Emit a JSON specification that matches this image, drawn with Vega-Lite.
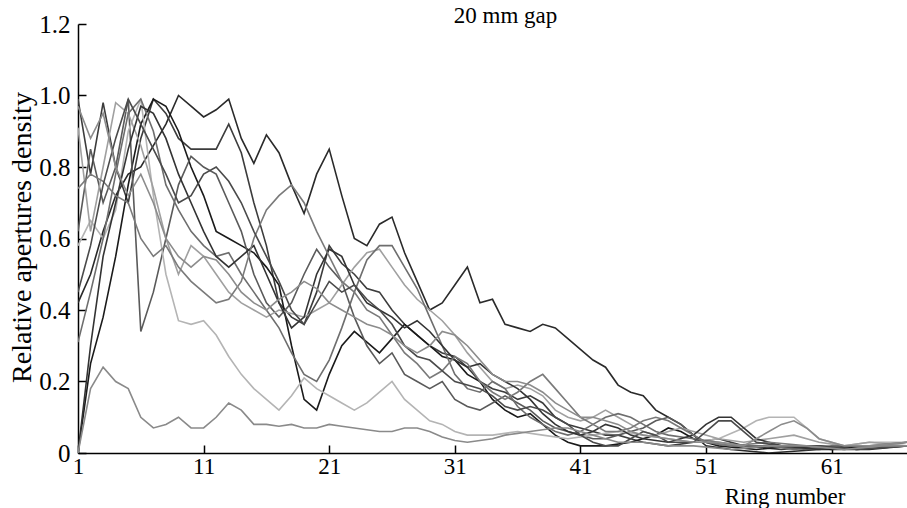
{
"$schema": "https://vega.github.io/schema/vega-lite/v6.json",
"width": 829,
"height": 429,
"autosize": {"type": "none"},
"padding": {"left": 78, "top": 24, "right": 0, "bottom": 55},
"background": "white",
"config": {"view": {"stroke": null}, "font": "Liberation Serif"},
"title": {"text": "20 mm gap", "font": "Liberation Serif", "fontSize": 23, "fontWeight": "normal", "color": "black", "anchor": "middle", "frame": "group", "baseline": "alphabetic", "offset": 0, "dy": 34, "dx": 13},
"data": {"values": [
{"s":"s1","r":1,"v":0.42},{"s":"s1","r":2,"v":0.5},{"s":"s1","r":3,"v":0.62},{"s":"s1","r":4,"v":0.72},{"s":"s1","r":5,"v":0.78},{"s":"s1","r":6,"v":0.8},{"s":"s1","r":7,"v":0.86},{"s":"s1","r":8,"v":0.92},{"s":"s1","r":9,"v":1.0},{"s":"s1","r":10,"v":0.97},{"s":"s1","r":11,"v":0.94},{"s":"s1","r":12,"v":0.96},{"s":"s1","r":13,"v":0.99},{"s":"s1","r":14,"v":0.88},{"s":"s1","r":15,"v":0.81},{"s":"s1","r":16,"v":0.89},{"s":"s1","r":17,"v":0.84},{"s":"s1","r":18,"v":0.75},{"s":"s1","r":19,"v":0.67},{"s":"s1","r":20,"v":0.78},{"s":"s1","r":21,"v":0.85},{"s":"s1","r":22,"v":0.72},{"s":"s1","r":23,"v":0.6},{"s":"s1","r":24,"v":0.58},{"s":"s1","r":25,"v":0.64},{"s":"s1","r":26,"v":0.66},{"s":"s1","r":27,"v":0.56},{"s":"s1","r":28,"v":0.48},{"s":"s1","r":29,"v":0.4},{"s":"s1","r":30,"v":0.42},{"s":"s1","r":31,"v":0.47},{"s":"s1","r":32,"v":0.52},{"s":"s1","r":33,"v":0.42},{"s":"s1","r":34,"v":0.43},{"s":"s1","r":35,"v":0.36},{"s":"s1","r":36,"v":0.35},{"s":"s1","r":37,"v":0.34},{"s":"s1","r":38,"v":0.36},{"s":"s1","r":39,"v":0.35},{"s":"s1","r":40,"v":0.32},{"s":"s1","r":41,"v":0.29},{"s":"s1","r":42,"v":0.26},{"s":"s1","r":43,"v":0.24},{"s":"s1","r":44,"v":0.19},{"s":"s1","r":45,"v":0.17},{"s":"s1","r":46,"v":0.16},{"s":"s1","r":47,"v":0.12},{"s":"s1","r":48,"v":0.1},{"s":"s1","r":49,"v":0.08},{"s":"s1","r":50,"v":0.05},{"s":"s1","r":51,"v":0.02},{"s":"s1","r":53,"v":0.01},{"s":"s1","r":56,"v":0.0},{"s":"s1","r":60,"v":0.01},{"s":"s1","r":64,"v":0.01},{"s":"s1","r":67,"v":0.02},
{"s":"s2","r":1,"v":0.99},{"s":"s2","r":2,"v":0.78},{"s":"s2","r":3,"v":0.98},{"s":"s2","r":4,"v":0.8},{"s":"s2","r":5,"v":0.7},{"s":"s2","r":6,"v":0.88},{"s":"s2","r":7,"v":0.99},{"s":"s2","r":8,"v":0.95},{"s":"s2","r":9,"v":0.88},{"s":"s2","r":10,"v":0.85},{"s":"s2","r":11,"v":0.85},{"s":"s2","r":12,"v":0.85},{"s":"s2","r":13,"v":0.92},{"s":"s2","r":14,"v":0.84},{"s":"s2","r":15,"v":0.7},{"s":"s2","r":16,"v":0.58},{"s":"s2","r":17,"v":0.42},{"s":"s2","r":18,"v":0.38},{"s":"s2","r":19,"v":0.36},{"s":"s2","r":20,"v":0.45},{"s":"s2","r":21,"v":0.58},{"s":"s2","r":22,"v":0.53},{"s":"s2","r":23,"v":0.5},{"s":"s2","r":24,"v":0.46},{"s":"s2","r":25,"v":0.45},{"s":"s2","r":26,"v":0.4},{"s":"s2","r":27,"v":0.36},{"s":"s2","r":28,"v":0.33},{"s":"s2","r":29,"v":0.3},{"s":"s2","r":30,"v":0.28},{"s":"s2","r":31,"v":0.27},{"s":"s2","r":32,"v":0.24},{"s":"s2","r":33,"v":0.2},{"s":"s2","r":34,"v":0.18},{"s":"s2","r":35,"v":0.17},{"s":"s2","r":36,"v":0.15},{"s":"s2","r":37,"v":0.16},{"s":"s2","r":38,"v":0.14},{"s":"s2","r":39,"v":0.1},{"s":"s2","r":40,"v":0.08},{"s":"s2","r":41,"v":0.07},{"s":"s2","r":42,"v":0.06},{"s":"s2","r":43,"v":0.05},{"s":"s2","r":44,"v":0.05},{"s":"s2","r":45,"v":0.04},{"s":"s2","r":46,"v":0.03},{"s":"s2","r":48,"v":0.02},{"s":"s2","r":50,"v":0.03},{"s":"s2","r":52,"v":0.04},{"s":"s2","r":54,"v":0.02},{"s":"s2","r":57,"v":0.01},{"s":"s2","r":60,"v":0.02},{"s":"s2","r":63,"v":0.01},{"s":"s2","r":67,"v":0.02},
{"s":"s3","r":1,"v":0.0},{"s":"s3","r":2,"v":0.25},{"s":"s3","r":3,"v":0.38},{"s":"s3","r":4,"v":0.55},{"s":"s3","r":5,"v":0.75},{"s":"s3","r":6,"v":0.92},{"s":"s3","r":7,"v":0.99},{"s":"s3","r":8,"v":0.97},{"s":"s3","r":9,"v":0.9},{"s":"s3","r":10,"v":0.8},{"s":"s3","r":11,"v":0.72},{"s":"s3","r":12,"v":0.62},{"s":"s3","r":13,"v":0.6},{"s":"s3","r":14,"v":0.58},{"s":"s3","r":15,"v":0.56},{"s":"s3","r":16,"v":0.52},{"s":"s3","r":17,"v":0.47},{"s":"s3","r":18,"v":0.3},{"s":"s3","r":19,"v":0.15},{"s":"s3","r":20,"v":0.12},{"s":"s3","r":21,"v":0.22},{"s":"s3","r":22,"v":0.3},{"s":"s3","r":23,"v":0.34},{"s":"s3","r":24,"v":0.31},{"s":"s3","r":25,"v":0.28},{"s":"s3","r":26,"v":0.32},{"s":"s3","r":27,"v":0.36},{"s":"s3","r":28,"v":0.33},{"s":"s3","r":29,"v":0.3},{"s":"s3","r":30,"v":0.27},{"s":"s3","r":31,"v":0.26},{"s":"s3","r":32,"v":0.22},{"s":"s3","r":33,"v":0.2},{"s":"s3","r":34,"v":0.15},{"s":"s3","r":35,"v":0.12},{"s":"s3","r":36,"v":0.1},{"s":"s3","r":37,"v":0.11},{"s":"s3","r":38,"v":0.08},{"s":"s3","r":39,"v":0.05},{"s":"s3","r":40,"v":0.03},{"s":"s3","r":41,"v":0.02},{"s":"s3","r":43,"v":0.02},{"s":"s3","r":45,"v":0.03},{"s":"s3","r":47,"v":0.05},{"s":"s3","r":48,"v":0.07},{"s":"s3","r":49,"v":0.06},{"s":"s3","r":50,"v":0.04},{"s":"s3","r":52,"v":0.02},{"s":"s3","r":55,"v":0.01},{"s":"s3","r":58,"v":0.02},{"s":"s3","r":61,"v":0.01},{"s":"s3","r":64,"v":0.02},{"s":"s3","r":67,"v":0.02},
{"s":"s4","r":1,"v":0.62},{"s":"s4","r":2,"v":0.85},{"s":"s4","r":3,"v":0.7},{"s":"s4","r":4,"v":0.8},{"s":"s4","r":5,"v":0.99},{"s":"s4","r":6,"v":0.34},{"s":"s4","r":7,"v":0.45},{"s":"s4","r":8,"v":0.6},{"s":"s4","r":9,"v":0.75},{"s":"s4","r":10,"v":0.83},{"s":"s4","r":11,"v":0.8},{"s":"s4","r":12,"v":0.78},{"s":"s4","r":13,"v":0.7},{"s":"s4","r":14,"v":0.62},{"s":"s4","r":15,"v":0.5},{"s":"s4","r":16,"v":0.42},{"s":"s4","r":17,"v":0.38},{"s":"s4","r":18,"v":0.42},{"s":"s4","r":19,"v":0.5},{"s":"s4","r":20,"v":0.57},{"s":"s4","r":21,"v":0.52},{"s":"s4","r":22,"v":0.48},{"s":"s4","r":23,"v":0.38},{"s":"s4","r":24,"v":0.3},{"s":"s4","r":25,"v":0.25},{"s":"s4","r":26,"v":0.28},{"s":"s4","r":27,"v":0.22},{"s":"s4","r":28,"v":0.2},{"s":"s4","r":29,"v":0.18},{"s":"s4","r":30,"v":0.2},{"s":"s4","r":31,"v":0.15},{"s":"s4","r":32,"v":0.13},{"s":"s4","r":33,"v":0.12},{"s":"s4","r":34,"v":0.14},{"s":"s4","r":35,"v":0.16},{"s":"s4","r":36,"v":0.14},{"s":"s4","r":37,"v":0.12},{"s":"s4","r":38,"v":0.09},{"s":"s4","r":39,"v":0.07},{"s":"s4","r":40,"v":0.06},{"s":"s4","r":41,"v":0.05},{"s":"s4","r":42,"v":0.04},{"s":"s4","r":43,"v":0.04},{"s":"s4","r":44,"v":0.05},{"s":"s4","r":45,"v":0.06},{"s":"s4","r":46,"v":0.07},{"s":"s4","r":47,"v":0.09},{"s":"s4","r":48,"v":0.1},{"s":"s4","r":49,"v":0.08},{"s":"s4","r":50,"v":0.05},{"s":"s4","r":51,"v":0.03},{"s":"s4","r":53,"v":0.02},{"s":"s4","r":56,"v":0.02},{"s":"s4","r":59,"v":0.01},{"s":"s4","r":62,"v":0.02},{"s":"s4","r":65,"v":0.02},{"s":"s4","r":67,"v":0.03},
{"s":"s5","r":1,"v":0.58},{"s":"s5","r":2,"v":0.65},{"s":"s5","r":3,"v":0.6},{"s":"s5","r":4,"v":0.68},{"s":"s5","r":5,"v":0.9},{"s":"s5","r":6,"v":0.99},{"s":"s5","r":7,"v":0.72},{"s":"s5","r":8,"v":0.5},{"s":"s5","r":9,"v":0.37},{"s":"s5","r":10,"v":0.36},{"s":"s5","r":11,"v":0.37},{"s":"s5","r":12,"v":0.33},{"s":"s5","r":13,"v":0.27},{"s":"s5","r":14,"v":0.22},{"s":"s5","r":15,"v":0.18},{"s":"s5","r":16,"v":0.15},{"s":"s5","r":17,"v":0.12},{"s":"s5","r":18,"v":0.16},{"s":"s5","r":19,"v":0.21},{"s":"s5","r":20,"v":0.18},{"s":"s5","r":21,"v":0.16},{"s":"s5","r":22,"v":0.14},{"s":"s5","r":23,"v":0.12},{"s":"s5","r":24,"v":0.14},{"s":"s5","r":25,"v":0.17},{"s":"s5","r":26,"v":0.2},{"s":"s5","r":27,"v":0.15},{"s":"s5","r":28,"v":0.12},{"s":"s5","r":29,"v":0.09},{"s":"s5","r":30,"v":0.08},{"s":"s5","r":31,"v":0.06},{"s":"s5","r":32,"v":0.05},{"s":"s5","r":34,"v":0.05},{"s":"s5","r":36,"v":0.06},{"s":"s5","r":38,"v":0.05},{"s":"s5","r":40,"v":0.04},{"s":"s5","r":42,"v":0.05},{"s":"s5","r":44,"v":0.06},{"s":"s5","r":46,"v":0.05},{"s":"s5","r":48,"v":0.04},{"s":"s5","r":50,"v":0.03},{"s":"s5","r":52,"v":0.04},{"s":"s5","r":54,"v":0.07},{"s":"s5","r":55,"v":0.09},{"s":"s5","r":56,"v":0.1},{"s":"s5","r":57,"v":0.1},{"s":"s5","r":58,"v":0.1},{"s":"s5","r":59,"v":0.07},{"s":"s5","r":60,"v":0.04},{"s":"s5","r":62,"v":0.02},{"s":"s5","r":64,"v":0.03},{"s":"s5","r":67,"v":0.03},
{"s":"s6","r":1,"v":0.91},{"s":"s6","r":2,"v":0.62},{"s":"s6","r":3,"v":0.8},{"s":"s6","r":4,"v":0.98},{"s":"s6","r":5,"v":0.95},{"s":"s6","r":6,"v":0.86},{"s":"s6","r":7,"v":0.74},{"s":"s6","r":8,"v":0.6},{"s":"s6","r":9,"v":0.5},{"s":"s6","r":10,"v":0.58},{"s":"s6","r":11,"v":0.55},{"s":"s6","r":12,"v":0.5},{"s":"s6","r":13,"v":0.45},{"s":"s6","r":14,"v":0.42},{"s":"s6","r":15,"v":0.4},{"s":"s6","r":16,"v":0.38},{"s":"s6","r":17,"v":0.4},{"s":"s6","r":18,"v":0.39},{"s":"s6","r":19,"v":0.38},{"s":"s6","r":20,"v":0.4},{"s":"s6","r":21,"v":0.42},{"s":"s6","r":22,"v":0.47},{"s":"s6","r":23,"v":0.52},{"s":"s6","r":24,"v":0.56},{"s":"s6","r":25,"v":0.57},{"s":"s6","r":26,"v":0.52},{"s":"s6","r":27,"v":0.47},{"s":"s6","r":28,"v":0.43},{"s":"s6","r":29,"v":0.4},{"s":"s6","r":30,"v":0.37},{"s":"s6","r":31,"v":0.33},{"s":"s6","r":32,"v":0.28},{"s":"s6","r":33,"v":0.24},{"s":"s6","r":34,"v":0.2},{"s":"s6","r":35,"v":0.18},{"s":"s6","r":36,"v":0.19},{"s":"s6","r":37,"v":0.18},{"s":"s6","r":38,"v":0.16},{"s":"s6","r":39,"v":0.12},{"s":"s6","r":40,"v":0.1},{"s":"s6","r":41,"v":0.09},{"s":"s6","r":42,"v":0.1},{"s":"s6","r":43,"v":0.12},{"s":"s6","r":44,"v":0.1},{"s":"s6","r":45,"v":0.08},{"s":"s6","r":46,"v":0.06},{"s":"s6","r":47,"v":0.05},{"s":"s6","r":48,"v":0.06},{"s":"s6","r":49,"v":0.07},{"s":"s6","r":50,"v":0.06},{"s":"s6","r":52,"v":0.04},{"s":"s6","r":54,"v":0.03},{"s":"s6","r":56,"v":0.04},{"s":"s6","r":58,"v":0.05},{"s":"s6","r":60,"v":0.03},{"s":"s6","r":62,"v":0.02},{"s":"s6","r":64,"v":0.03},{"s":"s6","r":67,"v":0.02},
{"s":"s7","r":1,"v":0.31},{"s":"s7","r":2,"v":0.45},{"s":"s7","r":3,"v":0.6},{"s":"s7","r":4,"v":0.78},{"s":"s7","r":5,"v":0.95},{"s":"s7","r":6,"v":0.99},{"s":"s7","r":7,"v":0.9},{"s":"s7","r":8,"v":0.75},{"s":"s7","r":9,"v":0.68},{"s":"s7","r":10,"v":0.62},{"s":"s7","r":11,"v":0.58},{"s":"s7","r":12,"v":0.55},{"s":"s7","r":13,"v":0.56},{"s":"s7","r":14,"v":0.5},{"s":"s7","r":15,"v":0.45},{"s":"s7","r":16,"v":0.4},{"s":"s7","r":17,"v":0.35},{"s":"s7","r":18,"v":0.28},{"s":"s7","r":19,"v":0.22},{"s":"s7","r":20,"v":0.2},{"s":"s7","r":21,"v":0.26},{"s":"s7","r":22,"v":0.35},{"s":"s7","r":23,"v":0.45},{"s":"s7","r":24,"v":0.54},{"s":"s7","r":25,"v":0.58},{"s":"s7","r":26,"v":0.58},{"s":"s7","r":27,"v":0.52},{"s":"s7","r":28,"v":0.46},{"s":"s7","r":29,"v":0.38},{"s":"s7","r":30,"v":0.3},{"s":"s7","r":31,"v":0.22},{"s":"s7","r":32,"v":0.18},{"s":"s7","r":33,"v":0.17},{"s":"s7","r":34,"v":0.2},{"s":"s7","r":35,"v":0.18},{"s":"s7","r":36,"v":0.13},{"s":"s7","r":37,"v":0.1},{"s":"s7","r":38,"v":0.08},{"s":"s7","r":39,"v":0.06},{"s":"s7","r":40,"v":0.05},{"s":"s7","r":41,"v":0.06},{"s":"s7","r":42,"v":0.08},{"s":"s7","r":43,"v":0.1},{"s":"s7","r":44,"v":0.11},{"s":"s7","r":45,"v":0.1},{"s":"s7","r":46,"v":0.08},{"s":"s7","r":47,"v":0.06},{"s":"s7","r":48,"v":0.05},{"s":"s7","r":50,"v":0.04},{"s":"s7","r":52,"v":0.03},{"s":"s7","r":54,"v":0.02},{"s":"s7","r":56,"v":0.02},{"s":"s7","r":58,"v":0.01},{"s":"s7","r":61,"v":0.02},{"s":"s7","r":64,"v":0.02},{"s":"s7","r":67,"v":0.03},
{"s":"s8","r":1,"v":0.0},{"s":"s8","r":2,"v":0.3},{"s":"s8","r":3,"v":0.55},{"s":"s8","r":4,"v":0.7},{"s":"s8","r":5,"v":0.85},{"s":"s8","r":6,"v":0.97},{"s":"s8","r":7,"v":0.95},{"s":"s8","r":8,"v":0.88},{"s":"s8","r":9,"v":0.78},{"s":"s8","r":10,"v":0.7},{"s":"s8","r":11,"v":0.62},{"s":"s8","r":12,"v":0.55},{"s":"s8","r":13,"v":0.52},{"s":"s8","r":14,"v":0.55},{"s":"s8","r":15,"v":0.58},{"s":"s8","r":16,"v":0.5},{"s":"s8","r":17,"v":0.42},{"s":"s8","r":18,"v":0.35},{"s":"s8","r":19,"v":0.38},{"s":"s8","r":20,"v":0.5},{"s":"s8","r":21,"v":0.57},{"s":"s8","r":22,"v":0.55},{"s":"s8","r":23,"v":0.47},{"s":"s8","r":24,"v":0.42},{"s":"s8","r":25,"v":0.4},{"s":"s8","r":26,"v":0.38},{"s":"s8","r":27,"v":0.35},{"s":"s8","r":28,"v":0.37},{"s":"s8","r":29,"v":0.34},{"s":"s8","r":30,"v":0.3},{"s":"s8","r":31,"v":0.26},{"s":"s8","r":32,"v":0.24},{"s":"s8","r":33,"v":0.25},{"s":"s8","r":34,"v":0.22},{"s":"s8","r":35,"v":0.2},{"s":"s8","r":36,"v":0.18},{"s":"s8","r":37,"v":0.15},{"s":"s8","r":38,"v":0.11},{"s":"s8","r":39,"v":0.08},{"s":"s8","r":40,"v":0.06},{"s":"s8","r":41,"v":0.05},{"s":"s8","r":42,"v":0.06},{"s":"s8","r":43,"v":0.08},{"s":"s8","r":44,"v":0.07},{"s":"s8","r":45,"v":0.05},{"s":"s8","r":46,"v":0.04},{"s":"s8","r":48,"v":0.03},{"s":"s8","r":50,"v":0.05},{"s":"s8","r":51,"v":0.08},{"s":"s8","r":52,"v":0.1},{"s":"s8","r":53,"v":0.1},{"s":"s8","r":54,"v":0.07},{"s":"s8","r":55,"v":0.04},{"s":"s8","r":57,"v":0.02},{"s":"s8","r":60,"v":0.01},{"s":"s8","r":63,"v":0.02},{"s":"s8","r":67,"v":0.02},
{"s":"s9","r":1,"v":0.74},{"s":"s9","r":2,"v":0.78},{"s":"s9","r":3,"v":0.76},{"s":"s9","r":4,"v":0.72},{"s":"s9","r":5,"v":0.7},{"s":"s9","r":6,"v":0.6},{"s":"s9","r":7,"v":0.55},{"s":"s9","r":8,"v":0.58},{"s":"s9","r":9,"v":0.52},{"s":"s9","r":10,"v":0.48},{"s":"s9","r":11,"v":0.45},{"s":"s9","r":12,"v":0.42},{"s":"s9","r":13,"v":0.43},{"s":"s9","r":14,"v":0.48},{"s":"s9","r":15,"v":0.6},{"s":"s9","r":16,"v":0.68},{"s":"s9","r":17,"v":0.72},{"s":"s9","r":18,"v":0.75},{"s":"s9","r":19,"v":0.7},{"s":"s9","r":20,"v":0.62},{"s":"s9","r":21,"v":0.55},{"s":"s9","r":22,"v":0.48},{"s":"s9","r":23,"v":0.45},{"s":"s9","r":24,"v":0.4},{"s":"s9","r":25,"v":0.38},{"s":"s9","r":26,"v":0.33},{"s":"s9","r":27,"v":0.28},{"s":"s9","r":28,"v":0.25},{"s":"s9","r":29,"v":0.21},{"s":"s9","r":30,"v":0.23},{"s":"s9","r":31,"v":0.27},{"s":"s9","r":32,"v":0.25},{"s":"s9","r":33,"v":0.2},{"s":"s9","r":34,"v":0.17},{"s":"s9","r":35,"v":0.15},{"s":"s9","r":36,"v":0.17},{"s":"s9","r":37,"v":0.2},{"s":"s9","r":38,"v":0.22},{"s":"s9","r":39,"v":0.18},{"s":"s9","r":40,"v":0.14},{"s":"s9","r":41,"v":0.1},{"s":"s9","r":42,"v":0.08},{"s":"s9","r":43,"v":0.06},{"s":"s9","r":44,"v":0.06},{"s":"s9","r":45,"v":0.07},{"s":"s9","r":46,"v":0.09},{"s":"s9","r":47,"v":0.1},{"s":"s9","r":48,"v":0.09},{"s":"s9","r":49,"v":0.07},{"s":"s9","r":50,"v":0.05},{"s":"s9","r":51,"v":0.03},{"s":"s9","r":53,"v":0.02},{"s":"s9","r":56,"v":0.03},{"s":"s9","r":59,"v":0.02},{"s":"s9","r":62,"v":0.01},{"s":"s9","r":65,"v":0.02},{"s":"s9","r":67,"v":0.02},
{"s":"s10","r":1,"v":0.45},{"s":"s10","r":2,"v":0.58},{"s":"s10","r":3,"v":0.75},{"s":"s10","r":4,"v":0.88},{"s":"s10","r":5,"v":0.99},{"s":"s10","r":6,"v":0.92},{"s":"s10","r":7,"v":0.85},{"s":"s10","r":8,"v":0.78},{"s":"s10","r":9,"v":0.7},{"s":"s10","r":10,"v":0.72},{"s":"s10","r":11,"v":0.78},{"s":"s10","r":12,"v":0.8},{"s":"s10","r":13,"v":0.76},{"s":"s10","r":14,"v":0.7},{"s":"s10","r":15,"v":0.62},{"s":"s10","r":16,"v":0.55},{"s":"s10","r":17,"v":0.48},{"s":"s10","r":18,"v":0.4},{"s":"s10","r":19,"v":0.36},{"s":"s10","r":20,"v":0.42},{"s":"s10","r":21,"v":0.48},{"s":"s10","r":22,"v":0.45},{"s":"s10","r":23,"v":0.47},{"s":"s10","r":24,"v":0.43},{"s":"s10","r":25,"v":0.4},{"s":"s10","r":26,"v":0.36},{"s":"s10","r":27,"v":0.3},{"s":"s10","r":28,"v":0.27},{"s":"s10","r":29,"v":0.26},{"s":"s10","r":30,"v":0.23},{"s":"s10","r":31,"v":0.2},{"s":"s10","r":32,"v":0.19},{"s":"s10","r":33,"v":0.18},{"s":"s10","r":34,"v":0.16},{"s":"s10","r":35,"v":0.13},{"s":"s10","r":36,"v":0.12},{"s":"s10","r":37,"v":0.13},{"s":"s10","r":38,"v":0.12},{"s":"s10","r":39,"v":0.1},{"s":"s10","r":40,"v":0.08},{"s":"s10","r":41,"v":0.05},{"s":"s10","r":42,"v":0.03},{"s":"s10","r":43,"v":0.02},{"s":"s10","r":44,"v":0.02},{"s":"s10","r":45,"v":0.04},{"s":"s10","r":46,"v":0.06},{"s":"s10","r":47,"v":0.05},{"s":"s10","r":48,"v":0.03},{"s":"s10","r":50,"v":0.03},{"s":"s10","r":51,"v":0.06},{"s":"s10","r":52,"v":0.09},{"s":"s10","r":53,"v":0.09},{"s":"s10","r":54,"v":0.06},{"s":"s10","r":55,"v":0.03},{"s":"s10","r":57,"v":0.02},{"s":"s10","r":60,"v":0.02},{"s":"s10","r":63,"v":0.01},{"s":"s10","r":67,"v":0.02},
{"s":"s11","r":1,"v":0.97},{"s":"s11","r":2,"v":0.88},{"s":"s11","r":3,"v":0.95},{"s":"s11","r":4,"v":0.8},{"s":"s11","r":5,"v":0.72},{"s":"s11","r":6,"v":0.78},{"s":"s11","r":7,"v":0.7},{"s":"s11","r":8,"v":0.6},{"s":"s11","r":9,"v":0.55},{"s":"s11","r":10,"v":0.52},{"s":"s11","r":11,"v":0.55},{"s":"s11","r":12,"v":0.54},{"s":"s11","r":13,"v":0.5},{"s":"s11","r":14,"v":0.45},{"s":"s11","r":15,"v":0.42},{"s":"s11","r":16,"v":0.4},{"s":"s11","r":17,"v":0.43},{"s":"s11","r":18,"v":0.45},{"s":"s11","r":19,"v":0.48},{"s":"s11","r":20,"v":0.46},{"s":"s11","r":21,"v":0.42},{"s":"s11","r":22,"v":0.4},{"s":"s11","r":23,"v":0.38},{"s":"s11","r":24,"v":0.36},{"s":"s11","r":25,"v":0.35},{"s":"s11","r":26,"v":0.33},{"s":"s11","r":27,"v":0.3},{"s":"s11","r":28,"v":0.28},{"s":"s11","r":29,"v":0.3},{"s":"s11","r":30,"v":0.34},{"s":"s11","r":31,"v":0.33},{"s":"s11","r":32,"v":0.3},{"s":"s11","r":33,"v":0.26},{"s":"s11","r":34,"v":0.22},{"s":"s11","r":35,"v":0.2},{"s":"s11","r":36,"v":0.2},{"s":"s11","r":37,"v":0.19},{"s":"s11","r":38,"v":0.17},{"s":"s11","r":39,"v":0.14},{"s":"s11","r":40,"v":0.12},{"s":"s11","r":41,"v":0.1},{"s":"s11","r":42,"v":0.1},{"s":"s11","r":43,"v":0.09},{"s":"s11","r":44,"v":0.08},{"s":"s11","r":45,"v":0.06},{"s":"s11","r":46,"v":0.05},{"s":"s11","r":48,"v":0.04},{"s":"s11","r":50,"v":0.03},{"s":"s11","r":52,"v":0.03},{"s":"s11","r":54,"v":0.02},{"s":"s11","r":55,"v":0.04},{"s":"s11","r":56,"v":0.06},{"s":"s11","r":57,"v":0.08},{"s":"s11","r":58,"v":0.09},{"s":"s11","r":59,"v":0.07},{"s":"s11","r":60,"v":0.04},{"s":"s11","r":62,"v":0.02},{"s":"s11","r":64,"v":0.02},{"s":"s11","r":67,"v":0.03},
{"s":"s12","r":1,"v":0.0},{"s":"s12","r":2,"v":0.18},{"s":"s12","r":3,"v":0.24},{"s":"s12","r":4,"v":0.2},{"s":"s12","r":5,"v":0.18},{"s":"s12","r":6,"v":0.1},{"s":"s12","r":7,"v":0.07},{"s":"s12","r":8,"v":0.08},{"s":"s12","r":9,"v":0.1},{"s":"s12","r":10,"v":0.07},{"s":"s12","r":11,"v":0.07},{"s":"s12","r":12,"v":0.1},{"s":"s12","r":13,"v":0.14},{"s":"s12","r":14,"v":0.12},{"s":"s12","r":15,"v":0.08},{"s":"s12","r":16,"v":0.08},{"s":"s12","r":17,"v":0.075},{"s":"s12","r":18,"v":0.08},{"s":"s12","r":19,"v":0.07},{"s":"s12","r":20,"v":0.07},{"s":"s12","r":21,"v":0.08},{"s":"s12","r":22,"v":0.075},{"s":"s12","r":23,"v":0.07},{"s":"s12","r":24,"v":0.065},{"s":"s12","r":25,"v":0.06},{"s":"s12","r":26,"v":0.06},{"s":"s12","r":27,"v":0.07},{"s":"s12","r":28,"v":0.07},{"s":"s12","r":29,"v":0.06},{"s":"s12","r":30,"v":0.045},{"s":"s12","r":31,"v":0.035},{"s":"s12","r":32,"v":0.03},{"s":"s12","r":33,"v":0.035},{"s":"s12","r":34,"v":0.04},{"s":"s12","r":35,"v":0.05},{"s":"s12","r":36,"v":0.055},{"s":"s12","r":37,"v":0.06},{"s":"s12","r":38,"v":0.065},{"s":"s12","r":39,"v":0.07},{"s":"s12","r":40,"v":0.07},{"s":"s12","r":41,"v":0.06},{"s":"s12","r":42,"v":0.05},{"s":"s12","r":43,"v":0.04},{"s":"s12","r":44,"v":0.03},{"s":"s12","r":46,"v":0.03},{"s":"s12","r":48,"v":0.02},{"s":"s12","r":50,"v":0.02},{"s":"s12","r":53,"v":0.01},{"s":"s12","r":56,"v":0.02},{"s":"s12","r":59,"v":0.02},{"s":"s12","r":62,"v":0.01},{"s":"s12","r":65,"v":0.02},{"s":"s12","r":67,"v":0.02}
]},
"mark": {"type": "line", "strokeWidth": 1.6, "clip": true},
"encoding": {
"x": {"field": "r", "type": "quantitative",
"scale": {"domain": [1, 67], "nice": false, "zero": false},
"axis": {"values": [1, 11, 21, 31, 41, 51, 61], "title": "Ring number", "grid": false,
"domainColor": "black", "domainWidth": 1.5, "tickColor": "black", "tickWidth": 1.5, "tickSize": -8,
"labelFont": "Liberation Serif", "labelFontSize": 23, "labelColor": "black", "labelPadding": 10, "labelFlush": false,
"titleFont": "Liberation Serif", "titleFontSize": 23, "titleFontWeight": "normal", "titleColor": "black",
"titleX": 767, "titleY": 50, "titleAlign": "right", "titleBaseline": "alphabetic"}},
"y": {"field": "v", "type": "quantitative",
"scale": {"domain": [0, 1.2], "nice": false},
"axis": {"values": [0, 0.2, 0.4, 0.6, 0.8, 1.0, 1.2], "labelExpr": "datum.value == 0 ? '0' : format(datum.value, '.1f')",
"title": "Relative apertures density", "grid": false,
"domainColor": "black", "domainWidth": 1.5, "tickColor": "black", "tickWidth": 1.5, "tickSize": -8,
"labelFont": "Liberation Serif", "labelFontSize": 25, "labelColor": "black", "labelPadding": 16, "labelFlush": false,
"titleFont": "Liberation Serif", "titleFontSize": 28, "titleFontWeight": "normal", "titleColor": "black",
"titleX": -56, "titleY": 213, "titleAngle": -90, "titleAlign": "center", "titleBaseline": "middle"}},
"color": {"field": "s", "type": "nominal", "legend": null,
"scale": {"domain": ["s1","s2","s3","s4","s5","s6","s7","s8","s9","s10","s11","s12"],
"range": ["#2a2a2a","#3c3c3c","#1a1a1a","#5a5a5a","#b4b4b4","#a0a0a0","#6e6e6e","#333333","#7a7a7a","#4a4a4a","#8c8c8c","#8a8a8a"]}}
}
}
